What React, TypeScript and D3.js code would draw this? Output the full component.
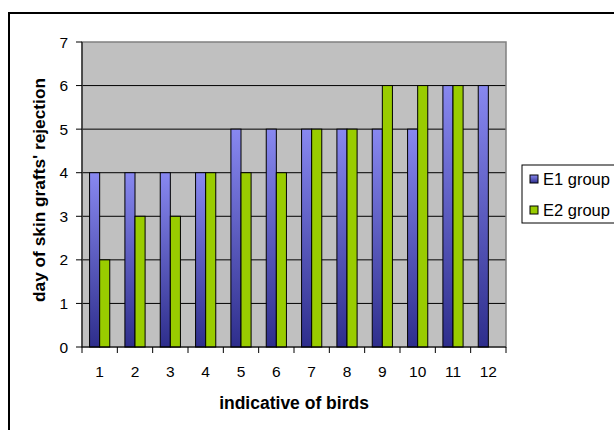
import React from "react";
import * as d3 from "d3";

const categories = ["1", "2", "3", "4", "5", "6", "7", "8", "9", "10", "11", "12"];
const e1Values = [4, 4, 4, 4, 5, 5, 5, 5, 5, 5, 6, 6];
const e2Values = [2, 3, 3, 4, 4, 4, 5, 5, 6, 6, 6, 0];
const seriesNames = ["E1 group", "E2 group"];
const yTicks = [0, 1, 2, 3, 4, 5, 6, 7];

const W = 614;
const H = 430;
const plot = { left: 82, right: 506, top: 42, bottom: 347 };
const font = "Arial, 'Liberation Sans', sans-serif";

export default function App() {
  const x = d3.scaleBand<string>().domain(categories).range([plot.left, plot.right]).paddingInner(0).paddingOuter(0);
  const y = d3.scaleLinear().domain([0, 7]).range([plot.bottom, plot.top]);
  const bw = x.bandwidth() / 3.5;
  const off = 0.75 * bw;
  const series = [e1Values, e2Values];
  const fills = ["url(#blueGrad)", "#99cc00"];

  return (
    <svg width={W} height={H} style={{ position: "absolute", left: 0, top: 0 }} fontFamily={font}>
      <defs>
        <linearGradient id="blueGrad" x1="0" y1="0" x2="0" y2="1">
          <stop offset="0%" stopColor="#8888f0" />
          <stop offset="100%" stopColor="#2e2e8c" />
        </linearGradient>
      </defs>
      <rect x={0} y={0} width={W} height={H} fill="#ffffff" />
      <rect x={9} y={13} width={W + 20} height={H + 20} fill="#ffffff" stroke="#000" strokeWidth={2} />
      <rect x={plot.left} y={plot.top} width={plot.right - plot.left} height={plot.bottom - plot.top} fill="#c0c0c0" />
      {yTicks.slice(1, -1).map((t) => (
        <line key={"g" + t} x1={plot.left} x2={plot.right} y1={y(t)} y2={y(t)} stroke="#000" strokeWidth={1} />
      ))}
      <rect x={plot.left} y={plot.top} width={plot.right - plot.left} height={plot.bottom - plot.top} fill="none" stroke="#808080" strokeWidth={1.5} />
      {series.map((vals, si) =>
        vals.map((v, i) =>
          v > 0 ? (
            <rect
              key={si + "-" + i}
              x={(x(categories[i]) as number) + off + si * bw}
              y={y(v)}
              width={bw}
              height={y(0) - y(v)}
              fill={fills[si]}
              stroke="#000"
              strokeWidth={1}
            />
          ) : null
        )
      )}
      <line x1={plot.left} x2={plot.left} y1={plot.top} y2={plot.bottom} stroke="#000" strokeWidth={1} />
      <line x1={plot.left} x2={plot.right} y1={plot.bottom} y2={plot.bottom} stroke="#000" strokeWidth={1} />
      {yTicks.map((t) => (
        <g key={"y" + t}>
          <line x1={plot.left - 6} x2={plot.left} y1={y(t)} y2={y(t)} stroke="#000" />
          <text x={68} y={y(t)} dy="0.36em" textAnchor="end" fontSize={15.5} fill="#000">
            {t}
          </text>
        </g>
      ))}
      {categories.concat(["__end"]).map((c, i) => {
        const xx = plot.left + i * x.step();
        return <line key={"xt" + i} x1={xx} x2={xx} y1={plot.bottom} y2={plot.bottom + 6} stroke="#000" />;
      })}
      {categories.map((c) => (
        <text key={"xl" + c} x={(x(c) as number) + x.bandwidth() / 2} y={377} textAnchor="middle" fontSize={15.5} fill="#000">
          {c}
        </text>
      ))}
      <text x={(plot.left + plot.right) / 2} y={409} textAnchor="middle" fontSize={17.5} fontWeight="bold" fill="#000">
        indicative of birds
      </text>
      <text
        transform={`translate(45,190) rotate(-90)`}
        textAnchor="middle"
        fontSize={17.3}
        fontWeight="bold"
        fill="#000"
      >
        day of skin grafts' rejection
      </text>
      <rect x={522} y={165} width={120} height={58} fill="#ffffff" stroke="#000" strokeWidth={1} />
      {seriesNames.map((n, i) => (
        <g key={n}>
          <rect x={530} y={175 + i * 31} width={8} height={8} fill={fills[i]} stroke="#000" strokeWidth={1} />
          <text x={543} y={179 + i * 31} dy="0.36em" fontSize={16.5} fill="#000">
            {n}
          </text>
        </g>
      ))}
    </svg>
  );
}
